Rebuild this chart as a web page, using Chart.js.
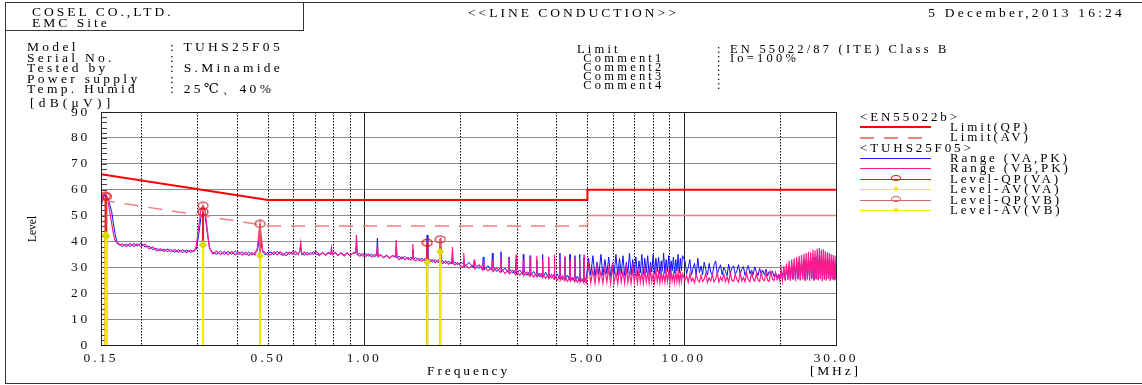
<!DOCTYPE html>
<html lang="en">
<head>
<meta charset="UTF-8">
<title>LINE CONDUCTION</title>
<script src="https://cdn.jsdelivr.net/npm/chart.js"></script>
<style>
    body { margin: 0; background: #fff; font-family: 'Liberation Serif', 'DejaVu Serif', serif; color: #000; }
    #wrap { position: relative; width: 1142px; height: 385px; overflow: hidden; }
    #chart { position: absolute; left: 0; top: 0; }
    .box { position: absolute; box-sizing: border-box; }
    .frame { left: 5px; top: 2px; width: 1137px; height: 382px; border-left: 1px solid #333; border-top: 1px solid #333; border-bottom: 1px solid #333; }
    .hbox { left: 5px; top: 2px; width: 299px; height: 29px; border-right: 1px solid #333; border-bottom: 1px solid #333; }
    .txt { position: absolute; white-space: nowrap; font-size: 13.5px; letter-spacing: 3px; line-height: 1; }
    .info div { position: relative; white-space: nowrap; }
    .info span { position: absolute; }
    #legend { position: absolute; left: 860px; top: 111.5px; font-size: 13px; letter-spacing: 2.9px; }
    #legend .row { position: relative; height: 10.4px; line-height: 10.4px; white-space: nowrap; }
    #legend .ln { position: absolute; left: 0; width: 71px; top: 5px; height: 0; }
    #legend .lab { position: absolute; left: 90px; }
    #legend .mk { position: absolute; left: 31px; top: 1.5px; width: 10px; height: 6px; border: 1px solid #e00; border-radius: 50%; box-sizing: border-box; }
    #legend .dm { position: absolute; left: 34px; top: 3px; width: 4px; height: 4px; background: #f0f000; transform: rotate(45deg); }
</style>
</head>
<body>
<div id="wrap">
    <canvas id="chart" width="1142" height="385"></canvas>
    <div class="box frame"></div>
    <div class="box hbox"></div>

    <div class="txt" style="left:32px; top:7.3px; line-height:10.7px;">COSEL CO.,LTD.<br>EMC Site</div>
    <div class="txt" style="left:468px; top:6px;">&lt;&lt;LINE CONDUCTION&gt;&gt;</div>
    <div class="txt" style="right:17px; top:6px; letter-spacing:3.2px;">5 December,2013 16:24</div>

    <div class="txt info" style="left:27px; top:42.4px; line-height:10.5px; letter-spacing:3.3px;">
        <div>Model<span style="left:143px">: TUHS25F05</span></div>
        <div>Serial No.<span style="left:143px">:</span></div>
        <div>Tested by<span style="left:143px">: S.Minamide</span></div>
        <div>Power supply<span style="left:143px">:</span></div>
        <div>Temp. Humid<span style="left:143px">: 25℃、40%</span></div>
    </div>
    <div class="txt info" style="left:577px; top:44.5px; font-size:12.5px; line-height:9px; letter-spacing:3.2px;">
        <div>Limit<span style="left:140px">: EN 55022/87 (ITE) Class B</span></div>
        <div>&nbsp;Comment1<span style="left:140px">: Io=100%</span></div>
        <div>&nbsp;Comment2<span style="left:140px">:</span></div>
        <div>&nbsp;Comment3<span style="left:140px">:</span></div>
        <div>&nbsp;Comment4<span style="left:140px">:</span></div>
    </div>

    <div class="txt" style="left:30px; top:95.6px; letter-spacing:4.2px;">[dB(μV)]</div>
    <div class="txt" style="left:32.5px; top:229px; font-size:11.5px; letter-spacing:0; transform:translate(-50%,-50%) rotate(-90deg);">Level</div>
    <div class="txt" style="left:427px; top:363.6px; letter-spacing:2.9px;">Frequency</div>
    <div class="txt" style="left:810px; top:363.6px; letter-spacing:2.8px;">[MHz]</div>

    <div id="legend">
        <div class="row"><span>&lt;EN55022b&gt;</span></div>
        <div class="row"><i class="ln" style="border-top:2px solid #f00; top:4px"></i><span class="lab">Limit(QP)</span></div>
        <div class="row"><i class="ln" style="height:1.5px; background:repeating-linear-gradient(90deg,#f08080 0 14px,transparent 14px 24px)"></i><span class="lab">Limit(AV)</span></div>
        <div class="row"><span>&lt;TUHS25F05&gt;</span></div>
        <div class="row"><i class="ln" style="border-top:1px solid #2020ff"></i><span class="lab">Range (VA,PK)</span></div>
        <div class="row"><i class="ln" style="border-top:1px solid #ff1a8c"></i><span class="lab">Range (VB,PK)</span></div>
        <div class="row"><i class="ln" style="border-top:1px solid #e02020"></i><i class="mk"></i><span class="lab">Level-QP(VA)</span></div>
        <div class="row"><i class="ln" style="border-top:1px solid #f0f000"></i><i class="dm"></i><span class="lab">Level-AV(VA)</span></div>
        <div class="row"><i class="ln" style="border-top:1px solid #d86868"></i><i class="mk" style="border-color:#d05050"></i><span class="lab">Level-QP(VB)</span></div>
        <div class="row"><i class="ln" style="border-top:1px solid #f0f000"></i><i class="dm"></i><span class="lab">Level-AV(VB)</span></div>
    </div>
</div>

<script>
    // scan rows: [MHz, VA peak dBuV, VB peak dBuV]
    const scanLow = [
        [0.150, 53, 55.5], [0.152, 56.5, 57.5], [0.154, 58, 58.3], [0.156, 57.6, 57.8],
        [0.158, 56.5, 55.5], [0.160, 54, 51], [0.162, 51.5, 47], [0.164, 47, 43],
        [0.166, 43, 40.5], [0.168, 40, 39.5], [0.171, 39, 38.6], [0.175, 38.0, 39.0],
        [0.180, 39.0, 38.0], [0.185, 38.0, 39.2], [0.190, 39.3, 38.1], [0.195, 38.2, 39.0],
        [0.200, 39.4, 38.0], [0.206, 37.9, 38.9], [0.212, 38.2, 37.2], [0.218, 36.9, 37.9],
        [0.224, 37.3, 36.3], [0.230, 36.4, 37.2], [0.236, 37.0, 36.1], [0.242, 36.1, 37.0],
        [0.248, 36.9, 36.0], [0.255, 35.8, 36.9], [0.262, 36.8, 35.8], [0.270, 35.7, 36.7],
        [0.278, 36.7, 35.7], [0.286, 35.8, 36.6], [0.293, 36.5, 36.0], [0.298, 37, 38],
        [0.303, 42, 45], [0.308, 49, 52], [0.313, 51.2, 54], [0.318, 49.5, 51.5],
        [0.323, 43, 44], [0.328, 37.5, 37.5], [0.335, 35.8, 35.2], [0.345, 35.0, 36.2],
        [0.355, 36.3, 35.0], [0.365, 34.9, 36.1], [0.375, 36.2, 34.9], [0.385, 35.0, 36.1],
        [0.395, 36.3, 34.8], [0.405, 34.9, 35.9], [0.415, 36.1, 34.7], [0.425, 34.8, 35.8],
        [0.435, 35.9, 34.6], [0.445, 34.7, 35.7], [0.455, 35.7, 34.8], [0.463, 36.5, 37.5],
        [0.468, 40, 43], [0.472, 42, 47], [0.476, 39.5, 42], [0.481, 36, 36.5],
        [0.490, 34.8, 35.6], [0.500, 35.9, 34.7]
    ];
    const scanMid = [
        [0.511, 35.8, 35.0], [0.522, 34.9, 35.9], [0.534, 36.2, 34.8], [0.546, 35.1, 36.0],
        [0.558, 34.6, 35.2], [0.570, 35.9, 34.6], [0.583, 35.0, 35.8], [0.596, 36.1, 35.1],
        [0.609, 34.8, 36.2], [0.622, 35.6, 34.9], [0.628, 36.0, 36.2], [0.633, 37.5, 39.5],
        [0.638, 35.2, 35.0], [0.650, 34.7, 35.9], [0.664, 35.8, 34.8], [0.679, 34.9, 35.6],
        [0.694, 36.0, 35.0], [0.709, 35.1, 36.1], [0.725, 34.6, 34.9], [0.741, 35.7, 35.7],
        [0.757, 34.8, 34.7], [0.773, 35.9, 35.5], [0.785, 35.0, 35.2], [0.790, 36.5, 37.5],
        [0.795, 34.8, 34.9], [0.810, 35.6, 35.8], [0.828, 34.5, 34.6], [0.846, 35.7, 35.5],
        [0.865, 34.7, 34.4], [0.884, 35.5, 35.6], [0.903, 34.4, 34.7], [0.922, 35.6, 35.4],
        [0.940, 35.5, 35.8], [0.946, 38.5, 42.5], [0.952, 34.8, 35.0], [0.970, 35.4, 34.3],
        [0.990, 34.2, 35.3], [1.012, 35.3, 34.2], [1.034, 34.3, 35.1], [1.056, 35.1, 34.0],
        [1.078, 34.0, 35.0], [1.094, 34.9, 34.6], [1.100, 41.3, 38], [1.106, 34.2, 34.0],
        [1.125, 35.0, 34.8], [1.150, 33.8, 33.7], [1.175, 34.7, 34.6], [1.200, 33.7, 33.5],
        [1.227, 34.5, 34.5], [1.253, 33.9, 34.2], [1.260, 38, 40.5], [1.267, 33.6, 33.8],
        [1.285, 34.3, 33.0], [1.313, 33.2, 34.1], [1.342, 34.2, 32.9], [1.372, 33.0, 33.8],
        [1.400, 33.9, 32.8], [1.413, 33.5, 33.6], [1.420, 37, 39], [1.427, 33.0, 33.1],
        [1.450, 33.8, 32.5], [1.482, 32.6, 33.5], [1.515, 33.5, 32.4], [1.548, 32.5, 33.3],
        [1.567, 33.2, 33.0], [1.575, 42.5, 40], [1.583, 32.5, 32.8], [1.600, 33.2, 32.0],
        [1.635, 32.0, 33.0], [1.670, 33.0, 31.8], [1.705, 31.8, 32.7], [1.722, 32.6, 33],
        [1.730, 38, 41.3], [1.738, 32.0, 32.2], [1.760, 32.6, 31.4], [1.800, 31.5, 32.4],
        [1.840, 32.4, 31.2], [1.870, 31.4, 32.0], [1.882, 32.0, 32.2], [1.890, 36, 37.8],
        [1.898, 31.4, 31.5], [1.920, 32.1, 30.9], [1.960, 31.0, 31.8], [2.000, 31.8, 30.7]
    ];
    const scanHigh = [
        [2.04, 31.6, 30.0], [2.05, 33, 35.5], [2.06, 30.2, 31.2], [2.13, 31.9, 29.7],
        [2.20, 29.8, 31.0], [2.21, 32, 33], [2.22, 31.2, 29.4], [2.29, 29.6, 30.9],
        [2.35, 30.9, 28.9], [2.36, 34, 32], [2.37, 29.1, 30.3], [2.44, 30.6, 28.7],
        [2.51, 28.8, 30.0], [2.52, 35.5, 33], [2.53, 30.3, 28.4], [2.60, 28.4, 29.8],
        [2.67, 29.9, 28.0], [2.68, 36, 34], [2.69, 28.2, 29.4], [2.76, 29.7, 27.6],
        [2.83, 27.9, 29.1], [2.84, 34, 33.5], [2.85, 29.4, 27.5], [2.92, 27.7, 28.9],
        [2.98, 29.1, 27.1], [2.99, 33, 35], [3.00, 27.5, 28.6], [3.07, 29.0, 26.9],
        [3.14, 27.2, 28.4], [3.15, 35, 33], [3.16, 28.8, 26.8], [3.23, 26.9, 28.2],
        [3.30, 28.5, 26.5], [3.31, 34.5, 34], [3.32, 26.9, 27.9], [3.39, 28.4, 26.2],
        [3.46, 26.6, 27.7], [3.47, 33, 34.5], [3.48, 28.2, 26.3], [3.55, 26.3, 27.6],
        [3.61, 27.9, 25.9], [3.62, 35, 33], [3.63, 26.3, 27.3], [3.70, 28.1, 25.7],
        [3.77, 26.0, 27.1], [3.78, 34, 34], [3.79, 27.6, 25.6], [3.86, 25.8, 27.2],
        [3.93, 27.3, 25.3], [3.94, 33.5, 35], [3.95, 25.7, 26.7], [4.02, 27.5, 25.1],
        [4.09, 25.5, 26.6], [4.10, 35.5, 33], [4.11, 27.1, 25.0], [4.18, 25.3, 26.6],
        [4.24, 26.9, 24.8], [4.25, 34, 34.5], [4.26, 25.3, 26.2], [4.33, 27.0, 24.6],
        [4.40, 25.1, 26.0], [4.41, 35, 33], [4.42, 26.7, 24.6], [4.49, 25.0, 25.9],
        [4.56, 26.5, 24.4], [4.57, 34.5, 34], [4.58, 24.9, 25.8], [4.65, 26.6, 24.2],
        [4.72, 24.7, 25.6], [4.73, 35, 33.5], [4.74, 26.3, 24.2], [4.80, 24.6, 25.5],
        [4.87, 26.1, 24.0], [4.88, 34, 35], [4.89, 24.5, 25.3], [4.96, 26.2, 23.9]
    ];
    const scanUpper = [
        [5.04, 33.5, 31], [5.12, 27.0, 24.0], [5.20, 34.5, 29], [5.28, 26.5, 23.8],
        [5.36, 32, 30.5], [5.43, 27.2, 24.2], [5.51, 35, 28.5], [5.59, 26.8, 23.9],
        [5.67, 33, 30], [5.75, 27.4, 24.3], [5.83, 34, 29.5], [5.91, 26.6, 23.7],
        [5.99, 31.5, 30.5], [6.06, 27.3, 24.1], [6.14, 35, 28], [6.22, 26.9, 23.8],
        [6.30, 33.5, 29.5], [6.38, 27.5, 24.4], [6.46, 34.5, 28.5], [6.54, 26.7, 23.9],
        [6.62, 32, 30], [6.69, 27.6, 24.2], [6.77, 35.5, 28], [6.85, 27.0, 23.8],
        [6.93, 33, 29.5], [7.01, 27.8, 24.5], [7.09, 34, 28.5], [7.17, 26.8, 24.0],
        [7.25, 32.5, 29], [7.32, 27.9, 24.3], [7.40, 35, 28], [7.48, 27.2, 23.9],
        [7.56, 33.5, 29.5], [7.64, 28.0, 24.4], [7.72, 34.5, 28], [7.80, 27.1, 24.0],
        [7.88, 32, 29], [7.95, 28.2, 24.6], [8.03, 35, 27.5], [8.11, 27.4, 24.1],
        [8.19, 33.5, 29], [8.27, 28.3, 24.5], [8.35, 34, 28], [8.43, 27.3, 24.0],
        [8.51, 32.5, 28.5], [8.58, 28.5, 24.6], [8.66, 35.5, 27.5], [8.74, 27.6, 24.2],
        [8.82, 33, 28.5], [8.90, 28.4, 24.5], [8.98, 34.5, 28], [9.06, 27.5, 24.1],
        [9.14, 32.5, 28.5], [9.21, 28.6, 24.7], [9.29, 34, 27.5], [9.37, 27.7, 24.2],
        [9.45, 33, 28.5], [9.53, 28.5, 24.5], [9.61, 35, 28], [9.69, 27.8, 24.1],
        [9.77, 33.5, 28.5], [9.84, 28.6, 24.6], [9.92, 34.5, 27.5]
    ];
    const scanTop = [
        [10.10, 32.5, 25.0], [10.22, 27.5, 26.8], [10.34, 30.0, 24.2], [10.46, 33.0, 27.5],
        [10.58, 27.0, 24.6], [10.70, 29.5, 25.8], [10.82, 31.5, 24.0], [10.95, 26.8, 27.2],
        [11.08, 33.5, 25.1], [11.21, 28.0, 24.3], [11.34, 30.5, 26.9], [11.47, 27.2, 24.5],
        [11.60, 32.0, 25.5], [11.74, 29.0, 27.6], [11.88, 27.0, 24.2], [12.02, 31.5, 26.0],
        [12.16, 28.2, 24.8], [12.30, 26.9, 27.3], [12.45, 30.8, 24.4], [12.60, 32.5, 25.6],
        [12.75, 27.3, 27.8], [12.90, 29.4, 24.3], [13.05, 31.0, 26.2], [13.20, 27.1, 24.9],
        [13.36, 30.0, 27.5], [13.52, 28.5, 24.5], [13.68, 26.8, 26.4], [13.84, 31.2, 24.2],
        [14.00, 27.6, 27.9], [14.17, 29.8, 25.0], [14.34, 30.6, 24.6], [14.51, 27.2, 27.2],
        [14.68, 28.6, 25.4], [14.85, 31.0, 24.3], [15.03, 27.4, 28.0], [15.21, 29.2, 24.8],
        [15.39, 30.3, 26.1], [15.57, 26.9, 24.5], [15.75, 28.8, 27.7], [15.94, 30.7, 25.2],
        [16.13, 27.5, 24.4], [16.32, 29.0, 28.1], [16.51, 27.1, 25.5], [16.70, 30.2, 24.7],
        [16.90, 28.3, 27.6], [17.10, 26.8, 25.1], [17.30, 29.6, 24.5], [17.50, 27.4, 28.2],
        [17.70, 28.9, 25.3], [17.91, 27.0, 24.8], [18.12, 29.3, 27.9], [18.33, 26.7, 25.0],
        [18.54, 28.4, 24.6], [18.75, 27.2, 28.3], [18.97, 28.6, 25.4], [19.19, 26.4, 24.9],
        [19.41, 27.8, 28.0], [19.63, 26.2, 25.2], [19.85, 27.4, 26.5], [20.00, 26.0, 25.0],
        [20.2, 28.5, 29.5], [20.4, 25.5, 25.0], [20.6, 29, 30.5], [20.8, 25.2, 24.8],
        [21.0, 30, 31.5], [21.2, 25.6, 25.1], [21.4, 30.5, 32.5], [21.6, 25.0, 24.7],
        [21.8, 31, 33], [22.0, 25.4, 25.2], [22.2, 31.5, 33.5], [22.4, 25.1, 24.6],
        [22.6, 32, 34], [22.8, 25.6, 25.3], [23.0, 32, 34.5], [23.2, 25.2, 24.9],
        [23.4, 32.5, 34.8], [23.6, 25.7, 25.4], [23.8, 33, 35.2], [24.0, 25.0, 24.6],
        [24.2, 33, 35.5], [24.4, 25.5, 25.2], [24.6, 33.5, 36], [24.8, 25.3, 24.8],
        [25.0, 33.5, 35.8], [25.2, 25.8, 25.4], [25.4, 34, 36.8], [25.6, 25.1, 24.7],
        [25.8, 34, 36.5], [26.0, 25.6, 25.3], [26.2, 34.5, 37.2], [26.4, 25.2, 24.9],
        [26.6, 34, 37.5], [26.8, 25.7, 25.5], [27.0, 34.5, 36.8], [27.2, 25.0, 24.6],
        [27.4, 34, 37], [27.6, 25.5, 25.2], [27.8, 33.5, 36.2], [28.0, 25.3, 24.8],
        [28.2, 33, 35.8], [28.4, 25.8, 25.5], [28.6, 33, 35.5], [28.8, 25.1, 24.7],
        [29.0, 32.5, 35], [29.2, 25.6, 25.3], [29.4, 32.5, 34.8], [29.6, 25.2, 24.9],
        [29.8, 32, 34.5], [30.0, 25.5, 25.0]
    ];

    // EN55022 class B limits
    const limitFreq = [0.15, 0.5, 5, 5, 30];
    const limitQP = [66, 56, 56, 60, 60];
    const limitAV = [56, 46, 46, 50, 50];

    // final measurements
    const qpFreqVA = [0.155, 0.313, 1.575];
    const qpLevelVA = [57.6, 51.4, 39.5];
    const avLevelVA = [42.5, 38.5, 32];
    const qpFreqVB = [0.156, 0.313, 0.472, 1.73];
    const qpLevelVB = [57.2, 53.8, 46.8, 40.8];
    const avLevelVB = [42, 38.8, 34.5, 36];

    const freqLabels = [0.15, 0.5, 1, 5, 10, 30];
    const dottedFreqs = [0.2, 0.3, 0.4, 0.5, 0.6, 0.7, 0.8, 0.9, 2, 3, 4, 5, 6, 7, 8, 9, 20];
    const solidFreqs = [1, 10];

    const scan = [...scanLow, ...scanMid, ...scanHigh, ...scanUpper, ...scanTop];
    const traceVA = scan.map(r => ({ x: r[0], y: r[1] }));
    const traceVB = scan.map(r => ({ x: r[0], y: r[2] }));
    const xy = (xs, ys) => xs.map((x, i) => ({ x: x, y: ys[i] }));

    // vertical sticks from 0 up to each reading, broken with a null
    function sticks(freqs, levels) {
        const pts = [];
        freqs.forEach((f, i) => { pts.push({ x: f, y: 0 }, { x: f, y: levels[i] }, { x: f, y: null }); });
        return pts;
    }

    function ellipseMark(color) {
        const c = document.createElement('canvas');
        c.width = 12; c.height = 9;
        const g = c.getContext('2d');
        g.strokeStyle = color;
        g.lineWidth = 1.2;
        g.beginPath();
        g.ellipse(6, 4.5, 5, 3.4, 0, 0, Math.PI * 2);
        g.stroke();
        return c;
    }
    const topOnly = r => c => (c.index % 3 === 1 ? r : 0);

    const axisFont = { family: "'Liberation Serif', serif", size: 13.5 };

    const frame = {
        id: 'frame',
        beforeDraw(chart) { chart.ctx.letterSpacing = '2.8px'; },
        beforeDatasetsDraw(chart) {
            const { ctx, chartArea: a, scales } = chart;
            const x = scales.x, y = scales.y;
            ctx.save();
            ctx.lineWidth = 1;
            ctx.strokeStyle = '#000';
            ctx.setLineDash([1.5, 1.5]);
            dottedFreqs.forEach(f => {
                const px = Math.round(x.getPixelForValue(f)) + 0.5;
                ctx.beginPath(); ctx.moveTo(px, a.top); ctx.lineTo(px, a.bottom); ctx.stroke();
            });
            ctx.setLineDash([]);
            ctx.strokeStyle = '#222';
            solidFreqs.forEach(f => {
                const px = Math.round(x.getPixelForValue(f)) + 0.5;
                ctx.beginPath(); ctx.moveTo(px, a.top); ctx.lineTo(px, a.bottom); ctx.stroke();
            });
            // minor ticks on the level axis every 2 dB
            ctx.strokeStyle = '#444';
            for (let v = 2; v < 90; v += 2) {
                const py = Math.round(y.getPixelForValue(v)) + 0.5;
                ctx.beginPath(); ctx.moveTo(a.left, py); ctx.lineTo(a.left + 6, py); ctx.stroke();
            }
            ctx.restore();
        },
        afterDatasetsDraw(chart) {
            const { ctx, chartArea: a } = chart;
            ctx.save();
            ctx.strokeStyle = '#222';
            ctx.lineWidth = 1;
            ctx.strokeRect(Math.round(a.left) + 0.5, Math.round(a.top) + 0.5, Math.round(a.right - a.left), Math.round(a.bottom - a.top));
            ctx.restore();
        }
    };

    new Chart(document.getElementById('chart'), {
        type: 'line',
        data: {
            datasets: [
                { label: 'Level-AV(VA)', data: sticks(qpFreqVA, avLevelVA), borderColor: '#f0f000', borderWidth: 2,
                  pointStyle: 'rectRot', pointRadius: topOnly(2.5), pointBackgroundColor: '#f0f000', pointBorderColor: '#d8d800', order: 0 },
                { label: 'Level-AV(VB)', data: sticks(qpFreqVB, avLevelVB), borderColor: '#f0f000', borderWidth: 2,
                  pointStyle: 'rectRot', pointRadius: topOnly(2.5), pointBackgroundColor: '#f0f000', pointBorderColor: '#d8d800', order: 0 },
                { label: 'Level-QP(VA)', data: sticks(qpFreqVA, qpLevelVA), borderColor: '#e02020', borderWidth: 2,
                  pointStyle: ellipseMark('#e01010'), pointRadius: topOnly(4), order: 1 },
                { label: 'Level-QP(VB)', data: sticks(qpFreqVB, qpLevelVB), borderColor: '#e05a5a', borderWidth: 2,
                  pointStyle: ellipseMark('#d04040'), pointRadius: topOnly(4), order: 1 },
                { label: 'Limit(QP)', data: xy(limitFreq, limitQP), borderColor: '#ff0000', borderWidth: 2, pointRadius: 0, order: 2 },
                { label: 'Limit(AV)', data: xy(limitFreq, limitAV), borderColor: '#f08080', borderWidth: 1.5, pointRadius: 0, order: 2,
                  segment: { borderDash: c => (c.p1.parsed.x <= 5 ? [14, 10] : []) } },
                { label: 'Range (VB,PK)', data: traceVB, borderColor: '#ff1a8c', borderWidth: 1.2, pointRadius: 0, order: 3 },
                { label: 'Range (VA,PK)', data: traceVA, borderColor: '#1010ff', borderWidth: 1, pointRadius: 0, order: 4 }
            ]
        },
        options: {
            responsive: false,
            animation: false,
            devicePixelRatio: 1,
            layout: { padding: { left: 0, top: 112, right: 306, bottom: 0 } },
            plugins: { legend: { display: false }, tooltip: { enabled: false } },
            elements: { line: { tension: 0 } },
            scales: {
                x: {
                    type: 'logarithmic',
                    min: 0.15,
                    max: 30,
                    afterBuildTicks: s => { s.ticks = freqLabels.map(v => ({ value: v })); },
                    afterFit: s => { s.height = 40; },
                    grid: { display: false, drawTicks: false },
                    border: { color: '#111' },
                    ticks: { autoSkip: false, maxRotation: 0, padding: 5, color: '#111', font: axisFont,
                             callback: v => Number(v).toFixed(2) }
                },
                y: {
                    min: 0,
                    max: 90,
                    afterFit: s => { s.width = 101; },
                    grid: { color: c => (c.tick && c.tick.value === 90 ? '#333' : '#8c8c8c'), drawTicks: false },
                    border: { color: '#111' },
                    ticks: { stepSize: 10, padding: 11, color: '#111', font: axisFont }
                }
            }
        },
        plugins: [frame]
    });
</script>
</body>
</html>
